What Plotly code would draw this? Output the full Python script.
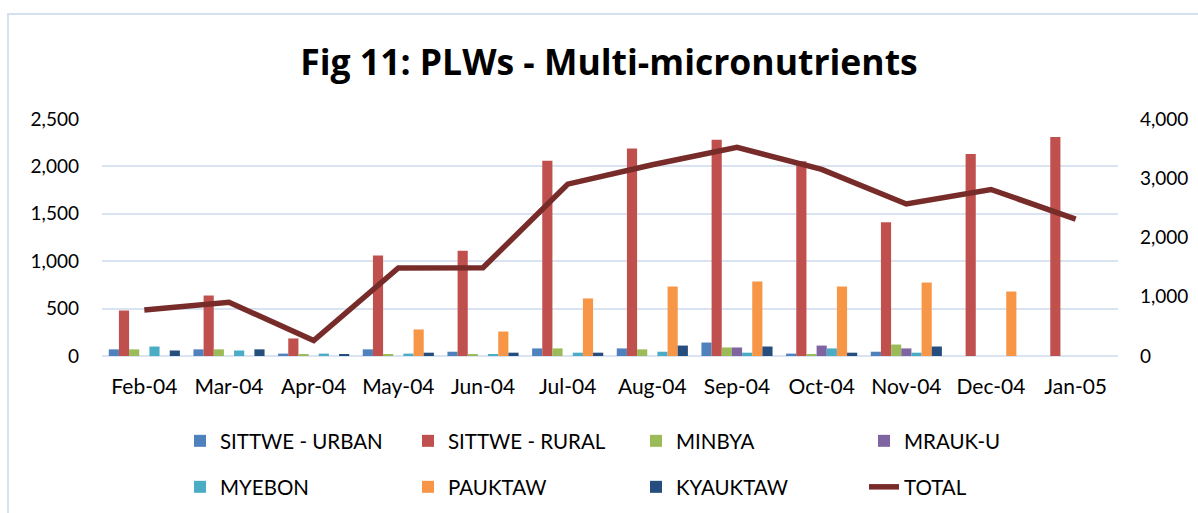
import plotly.graph_objects as go

months = ["Feb-04", "Mar-04", "Apr-04", "May-04", "Jun-04", "Jul-04",
          "Aug-04", "Sep-04", "Oct-04", "Nov-04", "Dec-04", "Jan-05"]

sittwe_urban = [70, 70, 25, 70, 45, 80, 80, 142, 25, 45, 0, 0]
sittwe_rural = [480, 638, 185, 1060, 1110, 2060, 2190, 2280, 2055, 1410, 2130, 2310]
minbya = [70, 70, 15, 15, 15, 80, 70, 90, 15, 121, 0, 0]
mrauk_u = [0, 0, 0, 0, 0, 0, 0, 90, 110, 80, 0, 0]
myebon = [100, 58, 25, 25, 15, 35, 45, 35, 80, 35, 0, 0]
pauktaw = [0, 0, 0, 280, 258, 607, 733, 786, 733, 775, 680, 0]
kyauktaw = [58, 70, 12, 35, 35, 35, 110, 100, 35, 100, 0, 0]
total = [778, 906, 262, 1485, 1490, 2900, 3228, 3523, 3150, 2566, 2810, 2310]

series = [
    ("SITTWE - URBAN", sittwe_urban, "#4F81BD", "legend"),
    ("SITTWE - RURAL", sittwe_rural, "#C0504D", "legend"),
    ("MINBYA", minbya, "#9BBB59", "legend"),
    ("MRAUK-U", mrauk_u, "#8064A2", "legend"),
    ("MYEBON", myebon, "#4BACC6", "legend2"),
    ("PAUKTAW", pauktaw, "#F79646", "legend2"),
    ("KYAUKTAW", kyauktaw, "#254D7D", "legend2"),
]

FONT = "Lato"
fig = go.Figure()
for name, vals, color, lg in series:
    fig.add_trace(go.Bar(x=months, y=vals, name=name, marker_color=color,
                         marker_line_width=0, legend=lg))

fig.add_trace(go.Scatter(x=months, y=total, name="TOTAL", mode="lines",
                         line=dict(color="#772C2A", width=5.5), yaxis="y2",
                         legend="legend2"))

W, H = 1198, 513
L, T = 102, 119
R = W - 1118
B = H - 356
pw, ph = W - L - R, H - T - B

def px_x(x):
    return (x - L) / pw

def px_y(y):
    return (H - B - y) / ph

legend_common = dict(orientation="h", xanchor="left", yanchor="middle",
                     entrywidth=183, entrywidthmode="pixels",
                     font=dict(family=FONT, size=20.5, color="#000000"),
                     bgcolor="rgba(0,0,0,0)", traceorder="normal")

fig.update_layout(
    width=W, height=H,
    margin=dict(l=L, r=R, t=T, b=B, autoexpand=False),
    paper_bgcolor="white", plot_bgcolor="white",
    barmode="group", bargap=0.16, bargroupgap=0,
    title=dict(text="<b>Fig 11: PLWs - Multi-micronutrients</b>",
               x=609 / W, xanchor="center", y=1 - 63 / H, yanchor="middle",
               font=dict(family="Open Sans", size=35.5, color="#000000")),
    font=dict(family=FONT, size=19, color="#000000"),
    xaxis=dict(type="category", showgrid=False, ticks="", showline=False,
               tickfont=dict(family=FONT, size=21), ticklabelstandoff=16),
    yaxis=dict(range=[0, 2500], tickvals=[0, 500, 1000, 1500, 2000, 2500],
               tickformat=",d", showgrid=True, gridcolor="#D9E3F1", gridwidth=2,
               zeroline=True, zerolinecolor="#D9E3F1", zerolinewidth=2,
               showline=False, ticks="", ticklabelstandoff=22,
               tickfont=dict(family=FONT, size=19)),
    yaxis2=dict(range=[0, 4000], tickvals=[0, 1000, 2000, 3000, 4000],
                tickformat=",d", overlaying="y", side="right", showgrid=False,
                zeroline=False, showline=False, ticks="", ticklabelstandoff=21,
                tickfont=dict(family=FONT, size=19)),
    legend=dict(x=px_x(180), y=px_y(441), **legend_common),
    legend2=dict(x=px_x(180), y=px_y(487), **legend_common),
    showlegend=True,
    shapes=[dict(type="rect", xref="paper", yref="paper",
                 x0=px_x(8), x1=px_x(1230), y0=px_y(14), y1=px_y(560),
                 line=dict(color="#D5E1F1", width=2), layer="below")],
)

fig.write_html("out.html",
               config={"displayModeBar": False},
               post_script="document.body.style.margin='0';"
                           "document.body.style.overflow='hidden';")
